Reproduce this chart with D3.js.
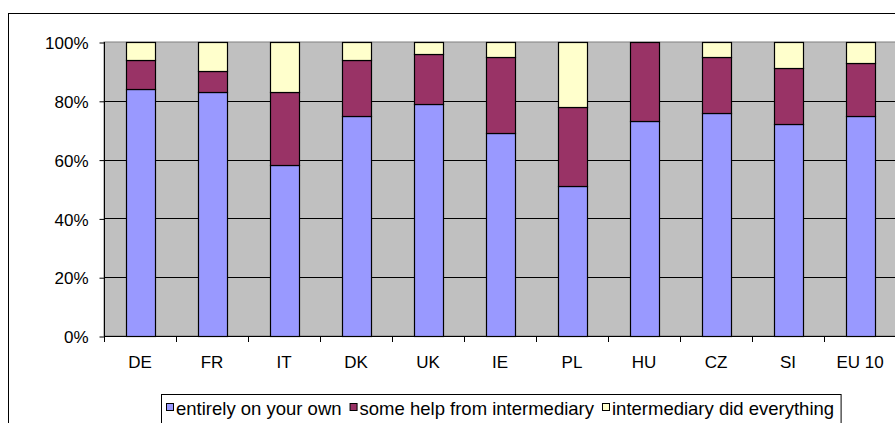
<!DOCTYPE html>
<html>
<head>
<meta charset="utf-8">
<script src="https://cdn.jsdelivr.net/npm/d3@7"></script>
<style>
  html, body { margin: 0; padding: 0; background: #fff; }
  svg { display: block; }
  text { font-family: Arial, "Liberation Sans", sans-serif; fill: #000; }
</style>
</head>
<body>
<svg id="chart" width="895" height="423"></svg>
<script>
const categories = ["DE", "FR", "IT", "DK", "UK", "IE", "PL", "HU", "CZ", "SI", "EU 10"];
const ownValues = [84, 83, 58, 75, 79, 69, 51, 73, 76, 72, 75];
const helpValues = [10, 7, 25, 19, 17, 26, 27, 27, 19, 19, 18];
const didAllValues = [6, 10, 17, 6, 4, 5, 22, 0, 5, 9, 7];
const seriesNames = ["entirely on your own", "some help from intermediary", "intermediary did everything"];
const seriesColors = ["#9999FF", "#993366", "#FFFFCC"];
const yTickValues = [0, 20, 40, 60, 80, 100];

const svg = d3.select("#chart");
const plot = { left: 104, top: 42, right: 896, bottom: 336 };

// outer chart frame
svg.append("rect")
  .attr("x", 8.5).attr("y", 13.5)
  .attr("width", 900).attr("height", 430)
  .attr("fill", "#fff").attr("stroke", "#000").attr("stroke-width", 1);

const x = d3.scaleBand().domain(categories).range([plot.left, plot.right]).padding(0);
const y = d3.scaleLinear().domain([0, 100]).range([plot.bottom, plot.top]);

// plot background
svg.append("rect")
  .attr("x", plot.left).attr("y", plot.top)
  .attr("width", plot.right - plot.left).attr("height", plot.bottom - plot.top)
  .attr("fill", "#C0C0C0").attr("stroke", "#808080").attr("stroke-width", 1);

// gridlines
svg.append("g").selectAll("line")
  .data(yTickValues.filter(v => v > 0 && v < 100))
  .join("line")
  .attr("x1", plot.left).attr("x2", plot.right)
  .attr("y1", d => Math.round(y(d)) + 0.5).attr("y2", d => Math.round(y(d)) + 0.5)
  .attr("stroke", "#000").attr("stroke-width", 1);

// stacked data
const table = categories.map((c, i) => ({ cat: c, own: ownValues[i], help: helpValues[i], all: didAllValues[i] }));
const stack = d3.stack().keys(["own", "help", "all"]);
const layers = stack(table);

const barW = x.bandwidth() * 0.4;
svg.append("g").selectAll("g")
  .data(layers)
  .join("g")
  .attr("fill", (d, i) => seriesColors[i])
  .selectAll("rect")
  .data(d => d.filter(p => p[1] - p[0] > 0))
  .join("rect")
  .attr("x", d => Math.round(x(d.data.cat) + x.bandwidth() * 0.3) + 0.5)
  .attr("width", Math.round(barW))
  .attr("y", d => Math.round(y(d[1])) + 0.5)
  .attr("height", d => Math.round(y(d[0])) - Math.round(y(d[1])))
  .attr("stroke", "#000").attr("stroke-width", 1.2);

// y axis
const yAxis = d3.axisLeft(y).tickValues(yTickValues).tickFormat(d => d + "%").tickSize(5).tickPadding(11);
const gy = svg.append("g").attr("transform", `translate(${plot.left + 0.5},0.5)`).call(yAxis);
gy.select(".domain").attr("stroke", "#000").attr("d", `M0,${plot.top - 0.5}V${plot.bottom - 0.5}`);
gy.selectAll(".tick line").attr("stroke", "#000");
gy.selectAll(".tick text").style("font-size", "17px").attr("dy", "0.36em");

// x axis: ticks between categories
const xAxisG = svg.append("g");
xAxisG.append("line")
  .attr("x1", plot.left).attr("x2", plot.right)
  .attr("y1", plot.bottom + 0.5).attr("y2", plot.bottom + 0.5)
  .attr("stroke", "#000");
xAxisG.selectAll("line.tk")
  .data(categories)
  .join("line").attr("class", "tk")
  .attr("x1", d => Math.round(x(d)) + 0.5).attr("x2", d => Math.round(x(d)) + 0.5)
  .attr("y1", plot.bottom).attr("y2", plot.bottom + 6)
  .attr("stroke", "#000");
xAxisG.selectAll("text")
  .data(categories)
  .join("text")
  .attr("x", d => x(d) + x.bandwidth() / 2)
  .attr("y", 368)
  .attr("text-anchor", "middle")
  .style("font-size", "17px")
  .text(d => d);

// legend
const legend = svg.append("g");
const legendBox = legend.append("rect")
  .attr("x", 161.5).attr("y", 394.5)
  .attr("height", 60)
  .attr("fill", "#fff").attr("stroke", "#000").attr("stroke-width", 1);
let lx = 166;
seriesNames.forEach((name, i) => {
  legend.append("rect")
    .attr("x", lx + 0.5).attr("y", 403.5)
    .attr("width", 7).attr("height", 7)
    .attr("fill", seriesColors[i]).attr("stroke", "#000").attr("stroke-width", 1);
  const t = legend.append("text")
    .attr("x", lx + 10).attr("y", 415)
    .style("font-size", "18.5px")
    .text(name);
  lx = lx + 10 + t.node().getComputedTextLength() + 8;
});
legendBox.attr("width", Math.max(lx - 161.5 - 1, 0));
</script>
</body>
</html>
